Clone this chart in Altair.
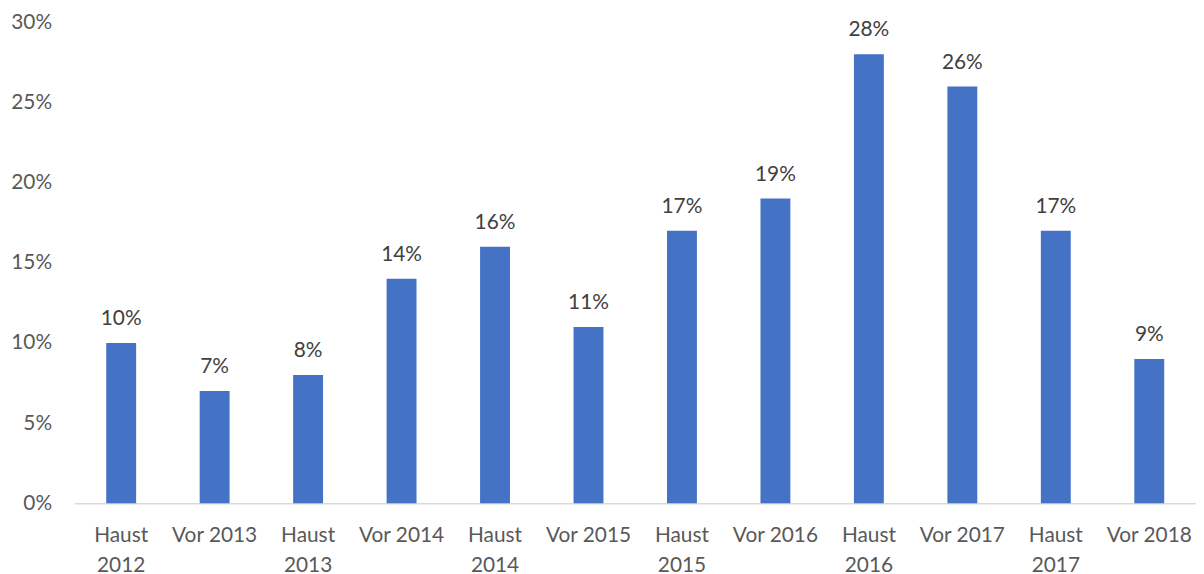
import altair as alt
import pandas as pd

categories = ["Haust|2012", "Vor 2013", "Haust|2013", "Vor 2014", "Haust|2014", "Vor 2015",
              "Haust|2015", "Vor 2016", "Haust|2016", "Vor 2017", "Haust|2017", "Vor 2018"]
values = [0.10, 0.07, 0.08, 0.14, 0.16, 0.11, 0.17, 0.19, 0.28, 0.26, 0.17, 0.09]

df = pd.DataFrame({"cat": categories, "val": values})

FONT = "Lato"
FS = 21

x = alt.X("cat:N", sort=categories, title=None,
          scale=alt.Scale(paddingInner=0.68, paddingOuter=0.34),
          axis=alt.Axis(labelExpr="split(datum.value, '|')", labelAngle=0,
                        labelFontSize=FS, labelColor="#595959", labelFont=FONT,
                        labelPadding=22, labelLineHeight=30, ticks=False,
                        domainColor="#d9d9d9", domainWidth=1.5, labelBaseline="top"))
y = alt.Y("val:Q", title=None,
          scale=alt.Scale(domain=[0, 0.30], nice=False),
          axis=alt.Axis(values=[0, 0.05, 0.10, 0.15, 0.20, 0.25, 0.30], format=".0%",
                        grid=False, domain=False, ticks=False, labelFontSize=FS,
                        labelColor="#595959", labelFont=FONT, labelPadding=23))

base = alt.Chart(df).encode(x=x, y=y)
bars = base.mark_bar(color="#4472C4")
text = base.mark_text(dy=-14, fontSize=FS, color="#404040", font=FONT, baseline="bottom").encode(
    text=alt.Text("val:Q", format=".0%"))

chart = (bars + text).properties(
    width=1131, height=485,
    autosize=alt.AutoSizeParams(type="none"),
    padding={"left": 67, "top": 12, "right": 0, "bottom": 72},
).configure_view(stroke=None)

chart.save("out.html", embed_options={"renderer": "svg", "actions": False})
